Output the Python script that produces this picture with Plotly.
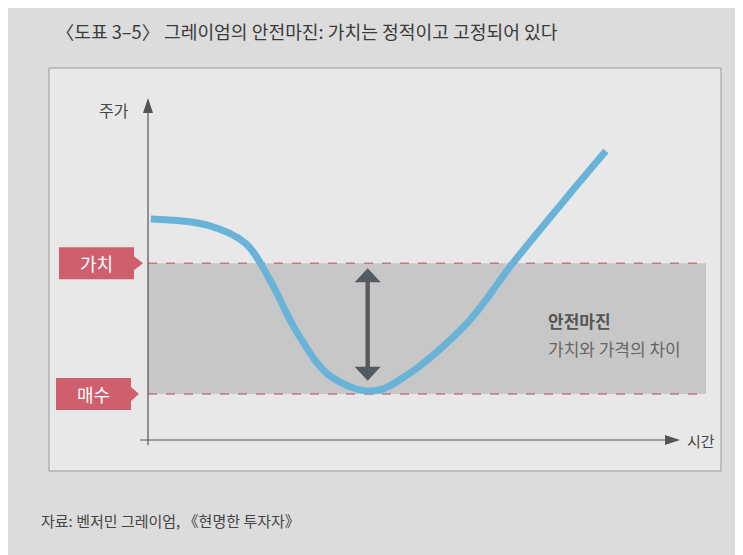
import plotly.graph_objects as go

# ---- data (time, price) ----
time = [0.5, 10.6, 17.4, 21.8, 26.7, 32.6, 40.3, 46.3, 57.1, 65.3, 76.0, 81.9]
price = [65.0, 63.2, 57.9, 47.1, 31.5, 18.8, 14.4, 19.1, 34.4, 52.1, 73.5, 85.0]
value_level = 52.0
buy_level = 13.5
level_labels = ["가치", "매수"]

title = "〈도표 3–5〉 그레이엄의 안전마진: 가치는 정적이고 고정되어 있다"
source = "자료: 벤저민 그레이엄, 《현명한 투자자》"

# ---- layout helpers: screen pixel -> data (page has 8px body margin) ----
X0, SX = 148.0, 5.59
Y0, SY = 440.0, 3.4
OFF = 8
def dx(px):
    return (px - X0) / SX
def dy(py):
    return (Y0 - py) / SY

FONT = "Noto Sans CJK KR"
pink = "#cf5f6d"
dash_col = "#c07a80"
arrow_col = "#555a60"

fig = go.Figure()

shapes = []
# frame
shapes.append(dict(type="rect", x0=dx(49), x1=dx(721), y0=dy(68), y1=dy(471),
                   line=dict(color="#9a9a9a", width=1), fillcolor="#e8e8e8", layer="below"))
# margin band
shapes.append(dict(type="rect", x0=0, x1=dx(706), y0=buy_level, y1=value_level,
                   line=dict(width=0), fillcolor="#c7c7c7", layer="below"))
# dashed level lines
for lv in (value_level, buy_level):
    shapes.append(dict(type="line", x0=0, x1=dx(706), y0=lv, y1=lv,
                       line=dict(color=dash_col, width=1.5, dash="dash"), layer="below"))

# pink label boxes with pointer
def label_box(level, left_px, right_px, tip_px):
    yc = Y0 - level * SY
    top, bot = yc - 16, yc + 16
    path = (f"M {dx(left_px)},{dy(top)} L {dx(right_px)},{dy(top)} L {dx(right_px)},{dy(yc-7)} "
            f"L {dx(tip_px)},{dy(yc)} L {dx(right_px)},{dy(yc+7)} L {dx(right_px)},{dy(bot)} "
            f"L {dx(left_px)},{dy(bot)} Z")
    return dict(type="path", path=path, fillcolor=pink, line=dict(width=0), layer="above")

shapes.append(label_box(value_level, 59, 134, 143))
shapes.append(label_box(buy_level, 56, 131, 139))

# axes lines
shapes.append(dict(type="line", x0=0, x1=0, y0=dy(445), y1=dy(108),
                   line=dict(color="#555", width=1.2)))
shapes.append(dict(type="line", x0=dx(140), x1=dx(668), y0=0, y1=0,
                   line=dict(color="#555", width=1.2)))

# double arrow (between value level and curve minimum)
tmin = time[price.index(min(price))] - 1.0
a_top = value_level - 1.5
a_bot = min(price) + 3.0
head_h = 14 / SY
half_w = 13 / SX
shaft_w = 2.2 / SX
shapes.append(dict(type="path",
                   path=(f"M {tmin},{a_top} L {tmin+half_w},{a_top-head_h} L {tmin+shaft_w},{a_top-head_h} "
                         f"L {tmin+shaft_w},{a_bot+head_h} L {tmin+half_w},{a_bot+head_h} L {tmin},{a_bot} "
                         f"L {tmin-half_w},{a_bot+head_h} L {tmin-shaft_w},{a_bot+head_h} "
                         f"L {tmin-shaft_w},{a_top-head_h} L {tmin-half_w},{a_top-head_h} Z"),
                   fillcolor=arrow_col, line=dict(width=0)))

# axis arrow heads
yt = dy(98)
shapes.append(dict(type="path",
                   path=f"M 0,{yt} L {5/SX},{yt-15/SY} L {-5/SX},{yt-15/SY} Z",
                   fillcolor="#555", line=dict(width=0)))
xt = dx(680)
shapes.append(dict(type="path",
                   path=f"M {xt},0 L {xt-15/SX},{5/SY} L {xt-15/SX},{-5/SY} Z",
                   fillcolor="#555", line=dict(width=0)))

fig.add_trace(go.Scatter(x=time, y=price, mode="lines",
                         line=dict(color="#6ab3d8", width=7, shape="spline", smoothing=1.0),
                         hoverinfo="skip", showlegend=False))

annotations = [
    dict(x=dx(54), y=dy(31), text=title, xanchor="left", yanchor="middle", showarrow=False,
         font=dict(family=FONT, size=18.2, color="#3a3a3a")),
    dict(x=dx(131), y=dy(110), text="주가", xanchor="right", yanchor="middle", showarrow=False,
         font=dict(family=FONT, size=16, color="#444")),
    dict(x=dx(685), y=dy(440), text="시간", xanchor="left", yanchor="middle", showarrow=False,
         font=dict(family=FONT, size=15, color="#444")),
    dict(x=dx(96), y=value_level, text=level_labels[0], xanchor="center", yanchor="middle", showarrow=False,
         font=dict(family=FONT, size=18, color="white")),
    dict(x=dx(93), y=buy_level, text=level_labels[1], xanchor="center", yanchor="middle", showarrow=False,
         font=dict(family=FONT, size=18, color="white")),
    dict(x=dx(546), y=dy(320), text="<b>안전마진</b>", xanchor="left", yanchor="middle", showarrow=False,
         font=dict(family=FONT, size=17, color="#555")),
    dict(x=dx(546), y=dy(348), text="가치와 가격의 차이", xanchor="left", yanchor="middle", showarrow=False,
         font=dict(family=FONT, size=17, color="#666")),
    dict(x=dx(39), y=dy(520), text=source, xanchor="left", yanchor="middle", showarrow=False,
         font=dict(family=FONT, size=15, color="#444")),
]

fig.update_layout(
    width=743, height=555, autosize=False,
    margin=dict(l=0, r=0, t=0, b=0),
    paper_bgcolor="#dcdcdc", plot_bgcolor="#dcdcdc",
    xaxis=dict(range=[dx(OFF), dx(743 + OFF)], visible=False, fixedrange=True),
    yaxis=dict(range=[dy(555 + OFF), dy(OFF)], visible=False, fixedrange=True),
    shapes=shapes, annotations=annotations, showlegend=False,
)

fig.write_html("out.html")
